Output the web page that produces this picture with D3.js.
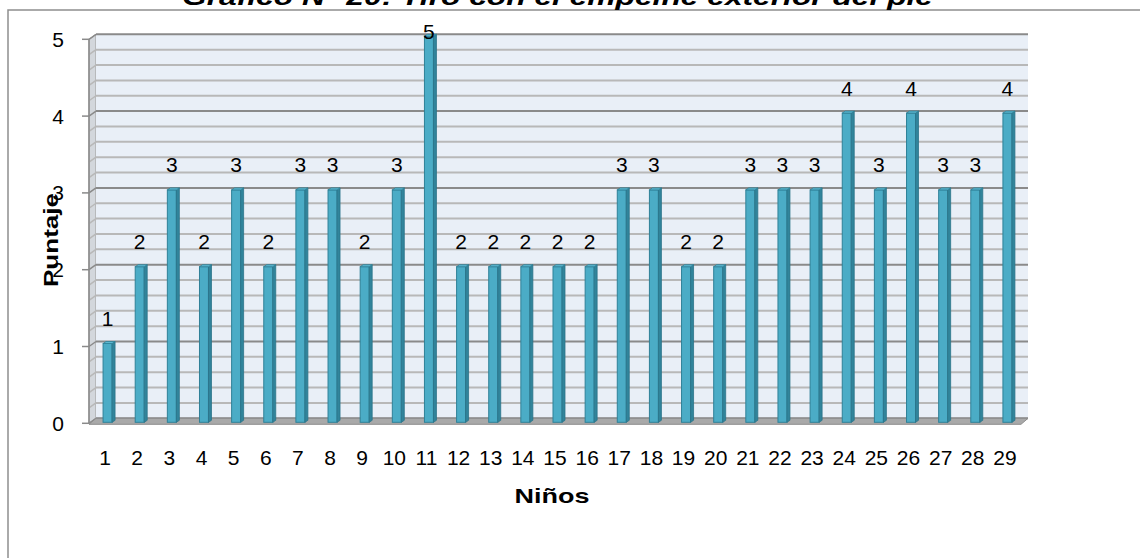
<!DOCTYPE html>
<html>
<head>
<meta charset="utf-8">
<script src="https://cdn.jsdelivr.net/npm/d3@7"></script>
<style>
  body { margin: 0; background: #fff; }
  text { font-family: "Liberation Sans", Arial, sans-serif; fill: #000; }
</style>
</head>
<body>
<div id="chart_wrapper"></div>
<script>
// data
var ninos = ["1","2","3","4","5","6","7","8","9","10","11","12","13","14","15",
             "16","17","18","19","20","21","22","23","24","25","26","27","28","29"];
var puntaje = [1,2,3,2,3,2,3,3,2,3,5,2,2,2,2,2,3,3,2,2,3,3,3,4,3,4,3,3,4];
var yTicks = [0,1,2,3,4,5];
var titulo = "Gráfico N° 20: Tiro con el empeine exterior del pie";

var W = 1140, H = 558;
var svg = d3.select("#chart_wrapper").append("svg").attr("width", W).attr("height", H);

// front plane of the 3d plot
var left = 89, right = 1021, top0 = 39.3, bottom0 = 423.3;
var dx = 7, dy = -5;   // depth of the back wall

var x = d3.scaleBand().domain(ninos).range([left, right]);
var y = d3.scaleLinear().domain([0, 5]).range([bottom0, top0]);

// outer border
svg.append("path")
    .attr("d", "M8," + H + "L8,10L" + W + ",10")
    .attr("fill", "none").attr("stroke", "#8f8f8f").attr("stroke-width", 1.5);

// title (cut at the top, as in the original)
svg.append("text")
    .attr("x", 182).attr("y", 5)
    .attr("textLength", 751).attr("lengthAdjust", "spacingAndGlyphs")
    .style("font-size", "24px").style("font-weight", "bold").style("font-style", "italic")
    .text(titulo);

// side wall
svg.append("path")
    .attr("d", "M" + left + "," + y(5) + "L" + (left + dx) + "," + (y(5) + dy) +
               "L" + (left + dx) + "," + (y(0) + dy) + "L" + left + "," + y(0) + "Z")
    .attr("fill", "#d3d7dc").attr("stroke", "#9a9a9a").attr("stroke-width", 1);

// back wall
svg.append("rect")
    .attr("x", left + dx).attr("y", y(5) + dy)
    .attr("width", right - left).attr("height", y(0) - y(5))
    .attr("fill", "#e9eff7");

// gridlines, major every 1, minor every 0.2
var grid = svg.append("g");
y.ticks(25).forEach(function(v) {
  var major = Math.abs(v - Math.round(v)) < 1e-6;
  var col = major ? "#8a8a8a" : "#b8b8b8";
  grid.append("line")
      .attr("x1", left + dx).attr("x2", right + dx)
      .attr("y1", y(v) + dy).attr("y2", y(v) + dy)
      .attr("stroke", col).attr("stroke-width", 2);
  grid.append("line")
      .attr("x1", left).attr("x2", left + dx)
      .attr("y1", y(v)).attr("y2", y(v) + dy)
      .attr("stroke", col).attr("stroke-width", 1.5);
});

// floor
svg.append("path")
    .attr("d", "M" + left + "," + (y(0) + 1) + "L" + (left + dx) + "," + (y(0) + dy) +
               "L" + (right + dx) + "," + (y(0) + dy) + "L" + right + "," + (y(0) + 1) + "Z")
    .attr("fill", "#a9a9a9").attr("stroke", "#8c8c8c").attr("stroke-width", 1);

// y axis line + ticks
svg.append("line")
    .attr("x1", left).attr("x2", left).attr("y1", y(5)).attr("y2", y(0))
    .attr("stroke", "#8a8a8a").attr("stroke-width", 1.5);
svg.selectAll(".ytick").data(yTicks).enter().append("line")
    .attr("x1", left - 7).attr("x2", left)
    .attr("y1", function(d) { return y(d); }).attr("y2", function(d) { return y(d); })
    .attr("stroke", "#8a8a8a").attr("stroke-width", 1.5);

// y axis title (tick labels sit on top of it, like in the picture)
svg.append("text")
    .attr("transform", "translate(58,240) rotate(-90)")
    .attr("text-anchor", "middle")
    .attr("textLength", 94).attr("lengthAdjust", "spacingAndGlyphs")
    .style("font-size", "21px").style("font-weight", "bold")
    .text("Puntaje");

svg.selectAll(".ylab").data(yTicks).enter().append("text")
    .attr("x", 64).attr("y", function(d) { return y(d); })
    .attr("dy", "0.36em").attr("text-anchor", "end")
    .style("font-size", "21px")
    .text(function(d) { return d; });

// bars (sit half way into the depth)
var bw = 9, bs = 3;
var bars = svg.append("g").selectAll("g").data(ninos).enter().append("g");
function cx(n) { return x(n) + x.bandwidth() / 2 + dx / 2; }
function yb(v) { return y(v) + dy / 2 - 0.5; }

bars.each(function(n, i) {
  var g = d3.select(this);
  var c = cx(n), t = yb(puntaje[i]), b = y(0) - 1;
  var x0 = c - 5.5, x1 = x0 + bw;
  g.append("rect")
      .attr("x", x0).attr("y", t).attr("width", bw).attr("height", b - t)
      .attr("fill", "#4bacc6").attr("stroke", "#2f8198").attr("stroke-width", 1);
  g.append("path")
      .attr("d", "M" + x1 + "," + t + "L" + (x1 + bs) + "," + (t - 2) +
                 "L" + (x1 + bs) + "," + (b - 2) + "L" + x1 + "," + b + "Z")
      .attr("fill", "#31849b").attr("stroke", "#2b7489").attr("stroke-width", 0.8);
  g.append("path")
      .attr("d", "M" + x0 + "," + t + "L" + (x0 + bs) + "," + (t - 2) +
                 "L" + (x1 + bs) + "," + (t - 2) + "L" + x1 + "," + t + "Z")
      .attr("fill", "#5cb8d1").attr("stroke", "#2f8198").attr("stroke-width", 0.8);
});

// value labels
svg.selectAll(".vlab").data(ninos).enter().append("text")
    .attr("x", function(n) { return cx(n) - 1; })
    .attr("y", function(n, i) { return Math.max(yb(puntaje[i]) - 17.5, 38.5); })
    .attr("text-anchor", "middle")
    .style("font-size", "21px")
    .text(function(n, i) { return puntaje[i]; });

// x tick labels
svg.selectAll(".xlab").data(ninos).enter().append("text")
    .attr("x", function(n) { return x(n) + x.bandwidth() / 2; })
    .attr("y", 465)
    .attr("text-anchor", "middle")
    .style("font-size", "21px")
    .text(function(n) { return n; });

// x axis title
svg.append("text")
    .attr("x", 552).attr("y", 503)
    .attr("text-anchor", "middle")
    .attr("textLength", 75).attr("lengthAdjust", "spacingAndGlyphs")
    .style("font-size", "21px").style("font-weight", "bold")
    .text("Niños");
</script>
</body>
</html>
